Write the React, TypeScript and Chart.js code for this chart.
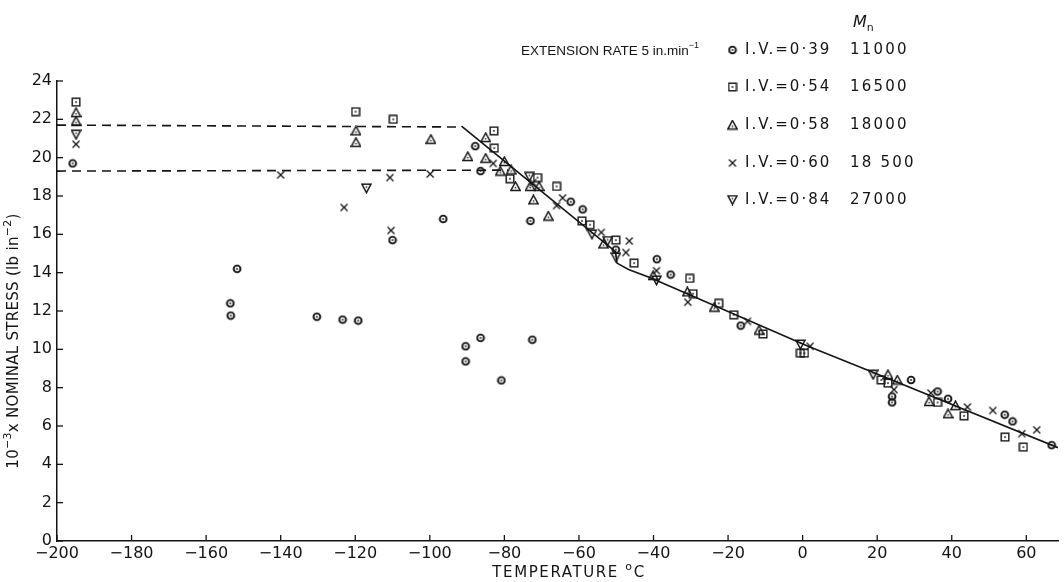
import React, { useEffect, useRef } from "react";
import { Chart, registerables } from "chart.js";

Chart.register(...registerables);

const INK = "#141414";
const FONT = '"DejaVu Sans", sans-serif';
const HFONT = '"Liberation Sans", sans-serif';

// axis ticks
const xTicks = [-200, -180, -160, -140, -120, -100, -80, -60, -40, -20, 0, 20, 40, 60];
const yTicks = [0, 2, 4, 6, 8, 10, 12, 14, 16, 18, 20, 22, 24];

// legend text
const legendLabels = ["I.V.=0·39", "I.V.=0·54", "I.V.=0·58", "I.V.=0·60", "I.V.=0·84"];
const legendMn = ["11000", "16500", "18000", "18 500", "27000"];

// I.V. = 0.39 (circle with dot)
const iv39X = [-195.8, -153.5, -153.4, -151.7, -130.3, -123.4, -119.2, -110, -96.4, -90.4, -90.4, -86.4, -80.8, -72.5, -87.8, -86.4, -73, -62.2, -59, -50.1, -39.1, -35.4, -16.6, 24, 24, 29.1, 36.2, 39, 54.2, 56.3, 66.8];
const iv39Y = [19.7, 12.4, 11.76, 14.2, 11.7, 11.55, 11.5, 15.7, 16.8, 10.16, 9.37, 10.6, 8.38, 10.5, 20.6, 19.3, 16.7, 17.7, 17.3, 15.2, 14.7, 13.9, 11.24, 7.54, 7.23, 8.4, 7.8, 7.42, 6.59, 6.24, 5.0];

// I.V. = 0.54 (square with dot)
const iv54X = [-194.9, -119.9, -109.8, -82.8, -82.7, -78.5, -71.1, -66, -59.2, -57, -50.1, -45.2, -30.3, -29.4, -22.5, -18.5, -10.6, -0.6, 0.5, 21.1, 22.9, 36.2, 43.3, 54.3, 59.2];
const iv54Y = [22.9, 22.4, 22.0, 21.4, 20.5, 18.9, 18.96, 18.5, 16.7, 16.5, 15.7, 14.5, 13.7, 12.9, 12.4, 11.8, 10.8, 9.8, 9.8, 8.4, 8.24, 7.23, 6.53, 5.42, 4.9];

// I.V. = 0.58 (triangle)
const iv58X = [-194.9, -194.9, -119.8, -119.8, -99.7, -85, -89.8, -85, -80, -81.1, -78.2, -77, -73.1, -70.7, -72.2, -68.2, -53.4, -40.1, -30.9, -23.7, -11.7, 22.9, 25.4, 33.9, 41, 39];
const iv58Y = [22.35, 21.9, 21.4, 20.8, 20.96, 21.05, 20.06, 19.97, 19.8, 19.3, 19.36, 18.5, 18.5, 18.5, 17.8, 16.95, 15.5, 13.85, 13.0, 12.2, 11.0, 8.68, 8.4, 7.28, 7.06, 6.64];

// I.V. = 0.60 (cross)
const iv60X = [-194.9, -140, -123, -110.7, -110.4, -99.9, -83, -72.4, -64.4, -66, -54, -46.5, -47.4, -39.2, -30.8, -14.8, 2, 24.5, 34.4, 44.2, 51, 58.8, 62.8];
const iv60Y = [20.7, 19.1, 17.4, 18.96, 16.2, 19.15, 19.7, 18.7, 17.9, 17.5, 16.1, 15.65, 15.05, 14.1, 12.46, 11.46, 10.16, 7.9, 7.72, 6.99, 6.81, 5.6, 5.8];

// I.V. = 0.84 (inverted triangle)
const iv84X = [-194.9, -117, -73.3, -56.5, -52.3, -50.1, -39.2, -0.6, 18.9];
const iv84Y = [21.2, 18.4, 19.0, 16.0, 15.65, 14.8, 13.6, 10.25, 8.68];

// drawn lines
const upperDashX = [-200, -91.5];
const upperDashY = [21.7, 21.6];
const lowerDashX = [-200, -79];
const lowerDashY = [19.3, 19.35];
const fitX = [-91.5, -50.2, -49.8, -46.7, -41, 1, 17, 68.5];
const fitY = [21.65, 15.1, 14.5, 14.17, 13.75, 10.2, 8.95, 4.87];

const pts = (xs: number[], ys: number[]) => xs.map((x, i) => ({ x, y: ys[i] }));

function makeMarker(kind: string): HTMLCanvasElement {
  const c = document.createElement("canvas");
  const s = kind === "tri" || kind === "itri" ? 11 : 10;
  c.width = s;
  c.height = s;
  const g = c.getContext("2d")!;
  g.strokeStyle = INK;
  g.fillStyle = INK;
  if (kind === "circle") {
    g.lineWidth = 1.9;
    g.beginPath();
    g.arc(5, 5, 3.4, 0, Math.PI * 2);
    g.stroke();
    g.beginPath();
    g.arc(5, 5, 0.9, 0, Math.PI * 2);
    g.fill();
  } else if (kind === "square") {
    g.lineWidth = 1.4;
    g.strokeRect(1.2, 1.2, 7.6, 7.6);
    g.fillRect(4.2, 4.2, 1.6, 1.6);
  } else if (kind === "tri") {
    g.lineWidth = 1.5;
    g.beginPath();
    g.moveTo(5.5, 1);
    g.lineTo(10.1, 9.5);
    g.lineTo(0.9, 9.5);
    g.closePath();
    g.stroke();
    g.fillRect(4.8, 6, 1.4, 1.4);
  } else if (kind === "itri") {
    g.lineWidth = 1.5;
    g.beginPath();
    g.moveTo(0.9, 1.2);
    g.lineTo(10.1, 1.2);
    g.lineTo(5.5, 9.8);
    g.closePath();
    g.stroke();
    g.fillRect(4.8, 3.4, 1.4, 1.4);
  } else {
    g.lineWidth = 1.3;
    g.beginPath();
    g.moveTo(1.5, 1.5);
    g.lineTo(8.5, 8.5);
    g.moveTo(8.5, 1.5);
    g.lineTo(1.5, 8.5);
    g.stroke();
  }
  return c;
}

type Part = { t: string; sup?: boolean; sub?: boolean; italic?: boolean };

function drawRich(
  ctx: CanvasRenderingContext2D,
  parts: Part[],
  x: number,
  y: number,
  size: number,
  align: "left" | "center",
  family: string = FONT,
  spacing: number = 0
) {
  const fontFor = (p: Part) =>
    `${p.italic ? "italic " : ""}${p.sup || p.sub ? Math.round(size * 0.7) : size}px ${family}`;
  (ctx as any).letterSpacing = `${spacing}px`;
  let total = 0;
  const widths = parts.map((p) => {
    ctx.font = fontFor(p);
    const w = ctx.measureText(p.t).width;
    total += w;
    return w;
  });
  let cx = align === "center" ? x - total / 2 : x;
  ctx.textAlign = "left";
  ctx.textBaseline = "middle";
  parts.forEach((p, i) => {
    ctx.font = fontFor(p);
    const dy = p.sup ? -size * 0.38 : p.sub ? size * 0.3 : 0;
    ctx.fillText(p.t, cx, y + dy);
    cx += widths[i];
  });
  (ctx as any).letterSpacing = "0px";
}

export default function App() {
  const ref = useRef<HTMLCanvasElement>(null);

  useEffect(() => {
    if (!ref.current) return;
    const mCircle = makeMarker("circle");
    const mSquare = makeMarker("square");
    const mTri = makeMarker("tri");
    const mCross = makeMarker("cross");
    const mITri = makeMarker("itri");
    const legendMarkers = [mCircle, mSquare, mTri, mCross, mITri];

    const annot = {
      id: "annot",
      afterDraw(chart: any) {
        const ctx: CanvasRenderingContext2D = chart.ctx;
        const xs = chart.scales.x;
        const ys = chart.scales.y;
        const { left, bottom } = chart.chartArea;
        ctx.save();
        ctx.strokeStyle = INK;
        ctx.fillStyle = INK;
        ctx.lineWidth = 1.3;
        // inward tick marks
        xTicks.forEach((v) => {
          const px = xs.getPixelForValue(v);
          ctx.beginPath();
          ctx.moveTo(px, bottom);
          ctx.lineTo(px, bottom - 6);
          ctx.stroke();
        });
        yTicks.forEach((v) => {
          const py = ys.getPixelForValue(v);
          ctx.beginPath();
          ctx.moveTo(left, py);
          ctx.lineTo(left + 6, py);
          ctx.stroke();
        });
        // axis titles
        drawRich(ctx, [{ t: "TEMPERATURE " }, { t: "o", sup: true }, { t: "C" }], 569, 573, 15, "center", FONT, 1.6);
        ctx.save();
        ctx.translate(14, 341);
        ctx.rotate(-Math.PI / 2);
        drawRich(
          ctx,
          [{ t: "10" }, { t: "−3", sup: true }, { t: "x NOMINAL STRESS (lb in" }, { t: "−2", sup: true }, { t: ")" }],
          0,
          0,
          15,
          "center",
          FONT,
          0.3
        );
        ctx.restore();
        // header text
        drawRich(ctx, [{ t: "EXTENSION RATE 5 in.min" }, { t: "−1", sup: true }], 521, 51, 13.5, "left", HFONT, 0);
        drawRich(ctx, [{ t: "M", italic: true }, { t: "n", sub: true }], 853, 23, 16, "left", FONT, 0);
        // legend rows
        const rowY = [50, 87, 125, 163, 200];
        legendLabels.forEach((lab, i) => {
          const m = legendMarkers[i];
          ctx.drawImage(m, 732.5 - m.width / 2, rowY[i] - m.height / 2);
          drawRich(ctx, [{ t: lab }], 745, rowY[i], 15, "left", FONT, 2);
          drawRich(ctx, [{ t: legendMn[i] }], 850, rowY[i], 15, "left", FONT, 2.2);
        });
        ctx.restore();
      },
    };

    const lineDs = (xs: number[], ys: number[], dash: number[]) => ({
      type: "scatter" as const,
      data: pts(xs, ys),
      showLine: true,
      borderColor: INK,
      borderWidth: 1.6,
      borderDash: dash,
      pointRadius: 0,
      fill: false,
      tension: 0,
    });
    const ptDs = (xs: number[], ys: number[], img: HTMLCanvasElement, label: string) => ({
      type: "scatter" as const,
      label,
      data: pts(xs, ys),
      pointStyle: img,
      pointRadius: 5,
      showLine: false,
    });

    const tickFont = { family: FONT, size: 16 };
    const chart = new Chart(ref.current, {
      type: "scatter",
      data: {
        datasets: [
          ptDs(iv39X, iv39Y, mCircle, legendLabels[0]),
          ptDs(iv54X, iv54Y, mSquare, legendLabels[1]),
          ptDs(iv58X, iv58Y, mTri, legendLabels[2]),
          ptDs(iv60X, iv60Y, mCross, legendLabels[3]),
          ptDs(iv84X, iv84Y, mITri, legendLabels[4]),
          lineDs(upperDashX, upperDashY, [9, 6]),
          lineDs(lowerDashX, lowerDashY, [9, 6]),
          lineDs(fitX, fitY, []),
        ] as any,
      },
      options: {
        animation: false,
        responsive: true,
        maintainAspectRatio: false,
        layout: { padding: { top: 81, right: 0, left: 0, bottom: 0 } },
        plugins: { legend: { display: false }, tooltip: { enabled: false } },
        scales: {
          x: {
            type: "linear",
            min: -200,
            max: 68.5,
            afterBuildTicks: (s: any) => {
              s.ticks = xTicks.map((v) => ({ value: v }));
            },
            afterFit: (s: any) => {
              s.height = 41;
            },
            grid: { display: true, drawOnChartArea: false, drawTicks: false },
            border: { display: true, color: INK, width: 1.5 },
            ticks: {
              font: tickFont,
              color: INK,
              padding: 3,
              maxRotation: 0,
              autoSkip: false,
              callback: (v: any) => String(v).replace("-", "−"),
            },
          },
          y: {
            type: "linear",
            min: 0,
            max: 24,
            afterBuildTicks: (s: any) => {
              s.ticks = yTicks.map((v) => ({ value: v }));
            },
            afterFit: (s: any) => {
              s.width = 57;
            },
            grid: { display: true, drawOnChartArea: false, drawTicks: false },
            border: { display: true, color: INK, width: 1.5 },
            ticks: { font: tickFont, color: INK, padding: 5, autoSkip: false },
          },
        },
      },
      plugins: [annot],
    });
    return () => chart.destroy();
  }, []);

  return (
    <div style={{ position: "fixed", left: 0, top: 0, width: 1064, height: 582, background: "#fff" }}>
      <canvas ref={ref} />
    </div>
  );
}
